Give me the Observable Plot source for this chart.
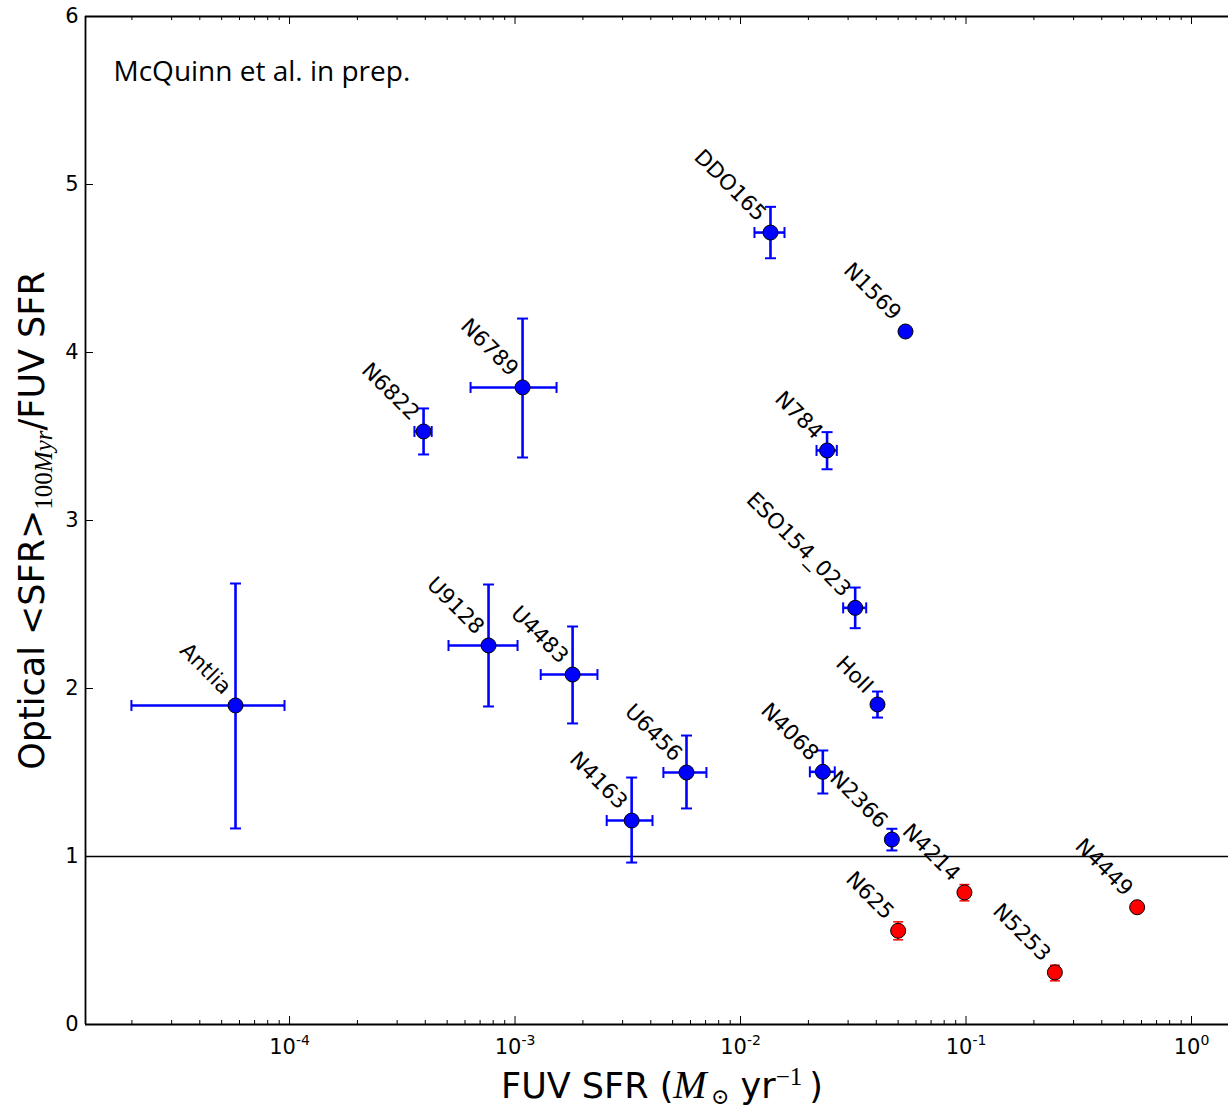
<!DOCTYPE html>
<html>
<head>
<meta charset="utf-8">
<script src="https://cdn.jsdelivr.net/npm/d3@7"></script>
<script src="https://cdn.jsdelivr.net/npm/@observablehq/plot@0.6"></script>
<style>
  html, body { margin: 0; padding: 0; background: #fff; }
  #chart svg { display: block; }
</style>
</head>
<body>
<div id="chart"></div>
<script>
// ---- Data ----
const galaxies = ["Antlia","U9128","U4483","U6456","N4163","N6822","N6789","DDO165","N1569","N784","ESO154_023","HoII","N4068","N2366","N4214","N625","N5253","N4449"];
const fuvSfr   = [5.76e-5, 7.63e-4, 1.80e-3, 5.76e-3, 3.29e-3, 3.93e-4, 1.08e-3, 1.358e-2, 0.0539, 0.0242, 0.03225, 0.0405, 0.02317, 0.0469, 0.0984, 0.0500, 0.2478, 0.574];
const fuvLow   = [1.99e-5, 5.07e-4, 1.30e-3, 4.55e-3, 2.55e-3, 3.58e-4, 6.35e-4, 1.153e-2, null, 0.02173, 0.02852, null, 0.02030, null, null, null, null, null];
const fuvHigh  = [9.5e-5, 1.026e-3, 2.32e-3, 7.06e-3, 4.07e-3, 4.27e-4, 1.528e-3, 1.567e-2, null, 0.02673, 0.03609, null, 0.02618, null, null, null, null, null];
const ratio     = [1.899, 2.256, 2.083, 1.500, 1.214, 3.530, 3.792, 4.714, 4.125, 3.417, 2.480, 1.905, 1.504, 1.101, 0.786, 0.558, 0.310, 0.698];
const ratioLow  = [1.167, 1.893, 1.792, 1.286, 0.964, 3.393, 3.375, 4.561, null, 3.305, 2.359, 1.827, 1.375, 1.036, 0.736, 0.504, 0.260, null];
const ratioHigh = [2.625, 2.619, 2.369, 1.720, 1.470, 3.667, 4.202, 4.867, null, 3.526, 2.601, 1.982, 1.631, 1.165, 0.833, 0.611, 0.353, null];
const groups    = ["above","above","above","above","above","above","above","above","above","above","above","above","above","above","below","below","below","below"];

const xMajorTicks = [1e-4, 1e-3, 1e-2, 1e-1, 1e0];
const xTickExponents = ["-4", "-3", "-2", "-1", "0"];
const yTicks = [0, 1, 2, 3, 4, 5, 6];
const referenceLine = [1];
const xDomain = [1.245e-5, 1.459];
const yDomain = [0, 6];

const titleText = "McQuinn et al. in prep.";
const groupColor = {above: "#0000ff", below: "#ff0000"};

// ---- Build tables ----
const data = galaxies.map((name, i) => ({
  name, x: fuvSfr[i], xlo: fuvLow[i], xhi: fuvHigh[i],
  y: ratio[i], ylo: ratioLow[i], yhi: ratioHigh[i],
  group: groups[i], color: groupColor[groups[i]]
}));

const xMinorTicks = [];
for (let e = -5; e <= 0; e++) for (let m = 2; m <= 9; m++) {
  const v = m * Math.pow(10, e);
  if (v > xDomain[0] && v < xDomain[1]) xMinorTicks.push(v);
}

// custom cap symbols for error bars
const hCap = {draw(ctx, size) { const r = Math.sqrt(size / Math.PI); ctx.moveTo(-r, 0); ctx.lineTo(r, 0); }};
const vCap = {draw(ctx, size) { const r = Math.sqrt(size / Math.PI); ctx.moveTo(0, -r); ctx.lineTo(0, r); }};

const W = 1228, H = 1107, mL = 85, mR = 0, mT = 16, mB = 83;
const plotW = W - mL - mR, plotH = H - mT - mB;

function errorMarks(group, width, capR, capW) {
  const d = data.filter(r => r.group === group);
  const xe = d.filter(r => r.xlo != null);
  const ye = d.filter(r => r.ylo != null);
  const c = groupColor[group];
  return [
    Plot.ruleY(xe, {y: "y", x1: "xlo", x2: "xhi", stroke: c, strokeWidth: width}),
    Plot.ruleX(ye, {x: "x", y1: "ylo", y2: "yhi", stroke: c, strokeWidth: width}),
    Plot.dot(xe, {x: "xlo", y: "y", symbol: vCap, r: capR, fill: "none", stroke: c, strokeWidth: capW}),
    Plot.dot(xe, {x: "xhi", y: "y", symbol: vCap, r: capR, fill: "none", stroke: c, strokeWidth: capW}),
    Plot.dot(ye, {x: "x", y: "ylo", symbol: hCap, r: capR, fill: "none", stroke: c, strokeWidth: capW}),
    Plot.dot(ye, {x: "x", y: "yhi", symbol: hCap, r: capR, fill: "none", stroke: c, strokeWidth: capW})
  ];
}

const XLABEL = "__XLABEL__", YLABEL = "__YLABEL__";

const chart = Plot.plot({
  width: W, height: H,
  marginLeft: mL, marginRight: mR, marginTop: mT, marginBottom: mB,
  x: {type: "log", domain: xDomain, axis: null},
  y: {domain: yDomain, axis: null},
  style: {fontFamily: "'DejaVu Sans', sans-serif", background: "white", color: "black", overflow: "visible"},
  marks: [
    // reference line at ratio = 1
    Plot.ruleY(referenceLine, {stroke: "black", strokeWidth: 1.5}),
    // spines
    Plot.ruleY([yDomain[0]], {stroke: "black", strokeWidth: 1.8}),
    Plot.ruleY([yDomain[1]], {stroke: "black", strokeWidth: 1.8}),
    Plot.ruleX([xDomain[0]], {stroke: "black", strokeWidth: 1.8}),
    // ticks (inward)
    Plot.ruleX(xMajorTicks, {x: d => d, insetTop: plotH - 8, stroke: "black", strokeWidth: 1}),
    Plot.ruleX(xMajorTicks, {x: d => d, insetBottom: plotH - 8, stroke: "black", strokeWidth: 1}),
    Plot.ruleX(xMinorTicks, {x: d => d, insetTop: plotH - 4, stroke: "black", strokeWidth: 1}),
    Plot.ruleX(xMinorTicks, {x: d => d, insetBottom: plotH - 4, stroke: "black", strokeWidth: 1}),
    Plot.ruleY(yTicks, {y: d => d, insetRight: plotW - 8, stroke: "black", strokeWidth: 1}),
    // tick labels
    Plot.text(xMajorTicks, {x: d => d, frameAnchor: "bottom", textAnchor: "middle", lineAnchor: "bottom", dy: 29,
      text: (d, i) => "10^" + xTickExponents[i], fontSize: 21, fill: "black"}),
    Plot.text(yTicks, {y: d => d, frameAnchor: "left", textAnchor: "end", lineAnchor: "middle", dx: -7,
      text: d => String(d), fontSize: 21, fill: "black"}),
    // error bars
    ...errorMarks("above", 2.6, 5.5, 2),
    ...errorMarks("below", 1.5, 5, 1.5),
    // points
    Plot.dot(data, {x: "x", y: "y", r: 7.5, fill: "color", stroke: "black", strokeWidth: 1}),
    // point labels
    Plot.text(data, {x: "x", y: "y", text: "name", rotate: 45, textAnchor: "end", lineAnchor: "bottom",
      dx: -13, dy: -10, fontSize: 21.5, fill: "black"}),
    // title inside plot
    Plot.text([titleText], {frameAnchor: "top-left", textAnchor: "start", lineAnchor: "bottom", dx: 28, dy: 64,
      text: d => d, fontSize: 28, fontFamily: "'Open Sans', Lato, sans-serif", fill: "black"}),
    // axis labels (rich text filled in afterwards)
    Plot.text([XLABEL], {frameAnchor: "bottom", textAnchor: "middle", lineAnchor: "bottom", dy: 73, dx: 5, text: d => d, fontSize: 35, fill: "black"}),
    Plot.text([YLABEL], {frameAnchor: "left", textAnchor: "middle", lineAnchor: "bottom", rotate: -90, dx: -42, text: d => d, fontSize: 35, fill: "black"})
  ]
});

document.getElementById("chart").appendChild(chart);

// ---- Rich text post-processing ----
const svgNS = "http://www.w3.org/2000/svg";
function setParts(textEl, parts) {
  while (textEl.firstChild) textEl.removeChild(textEl.firstChild);
  for (const p of parts) {
    const ts = document.createElementNS(svgNS, "tspan");
    ts.textContent = p.t;
    if (p.size) ts.setAttribute("font-size", p.size);
    if (p.family) ts.setAttribute("font-family", p.family);
    if (p.italic) ts.setAttribute("font-style", "italic");
    if (p.dy) ts.setAttribute("dy", p.dy);
    textEl.appendChild(ts);
  }
}
const serif = "'Liberation Serif', 'DejaVu Serif', serif";
chart.querySelectorAll("text").forEach(t => {
  const s = t.textContent;
  if (s === XLABEL) {
    setParts(t, [
      {t: "FUV SFR ("},
      {t: "M", family: serif, italic: true, size: 40},
      {t: "\u2009\u2299", family: serif, size: 22, dy: 6},
      {t: " yr", dy: -6},
      {t: "\u22121", family: serif, size: 25, dy: -13},
      {t: "\u2009)", dy: 13}
    ]);
  } else if (s === YLABEL) {
    setParts(t, [
      {t: "Optical <SFR>"},
      {t: "100", family: serif, size: 25, dy: 8},
      {t: "Myr", family: serif, italic: true, size: 25},
      {t: "/FUV SFR", dy: -8}
    ]);
  } else if (s.startsWith("10^")) {
    const exp = s.slice(3);
    setParts(t, [
      {t: "10"},
      {t: exp, size: 14, dy: -9}
    ]);
  }
});
</script>
</body>
</html>
